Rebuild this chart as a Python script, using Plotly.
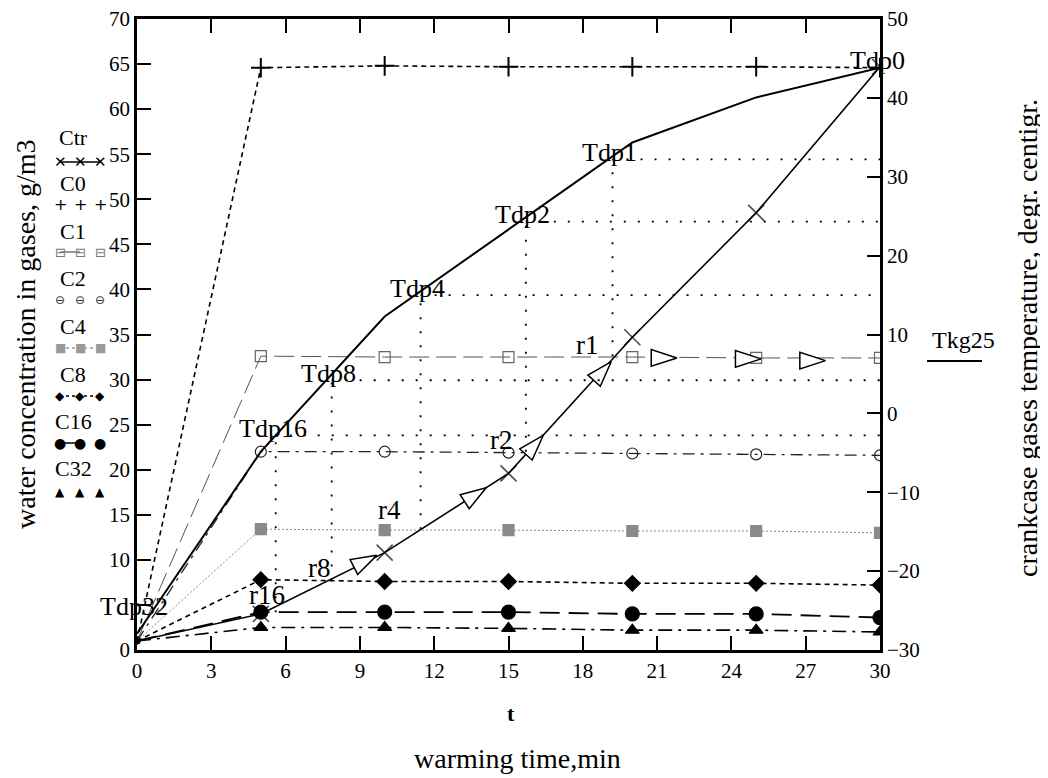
import plotly.graph_objects as go

# ---------------- data ----------------
t = [0, 5, 10, 15, 20, 25, 30]                      # warming time, min
ctr = [1.0, 4.0, 10.8, 19.6, 34.7, 48.5, 64.7]      # Ctr, g/m3
c0 = [1.0, 64.6, 64.8, 64.7, 64.7, 64.7, 64.6]
c1 = [1.0, 32.6, 32.5, 32.5, 32.5, 32.4, 32.4]
c2 = [1.0, 22.0, 22.0, 21.9, 21.8, 21.7, 21.6]
c4 = [1.0, 13.4, 13.3, 13.3, 13.2, 13.2, 13.0]
c8 = [1.0, 7.8, 7.6, 7.6, 7.4, 7.4, 7.2]
c16 = [1.0, 4.2, 4.2, 4.2, 4.0, 4.0, 3.6]
c32 = [1.0, 2.5, 2.5, 2.4, 2.2, 2.2, 2.0]
tdp_curve = [1.8, 22.0, 37.0, 46.6, 56.3, 61.3, 64.6]

# dew points (right axis, degr. centigr.) and times where Ctr reaches Cn
tdp_names = ["Tdp0", "Tdp1", "Tdp2", "Tdp4", "Tdp8", "Tdp16", "Tdp32"]
tdp_t = [30, 19.2, 15.7, 11.45, 7.86, 5.6, 0]
tdp_degc = [43.8, 32.2, 24.3, 15.0, 4.2, -2.8, -25.4]

r_names = ["r1", "r2", "r4", "r8", "r16"]
r_t = [19.2, 15.7, 11.45, 7.86, 5.6]
r_c = [32.6, 22.0, 13.4, 7.7, 4.2]

# open arrow heads drawn along the Ctr path
arrow_t = [9.68, 14.1, 16.4, 19.15, 21.8, 25.2, 27.8]
arrow_c = [10.5, 18.0, 23.8, 32.0, 32.4, 32.3, 32.1]

x_ticks = list(range(0, 31, 3))
left_ticks = list(range(0, 71, 5))
left_ticktext = ["" if v == 5 else str(v) for v in left_ticks]
left_range = [0, 70]
right_range = [-30, 50]

# ---------------- geometry / style ----------------
OFF = 8                       # page body margin of the html page
W, H = 1048, 778
L, R, T, B = 137, 880, 19, 650  # plot area in screenshot pixels
SERIF = "Liberation Serif"
SYM = "DejaVu Sans"


def px(x, y):
    return (x - L) / (R - L), (B - y) / (B - T)


def to_right(c):
    return right_range[0] + (c - left_range[0]) * (right_range[1] - right_range[0]) / (left_range[1] - left_range[0])


fig = go.Figure()


def series(y, color, dash, width, symbol, msize, mcolor, mline=1.2):
    sizes = [5] + [msize] * (len(t) - 1)
    fig.add_trace(go.Scatter(
        x=t, y=y, mode="lines+markers", showlegend=False,
        line=dict(color=color, dash=dash, width=width),
        marker=dict(symbol=symbol, size=sizes, color=mcolor, opacity=1,
                    line=dict(color=mcolor, width=mline))))


series(c4, "#8a8a8a", "2px,2px", 1, "square", 11, "#8a8a8a")
series(c1, "#555555", "20px,7px", 1, "square-open", 11, "#666666")
series(c2, "#222222", "12px,6px,3px,6px", 1.3, "circle-open", 11, "#222222")
series(c8, "black", "5px,4px", 1.6, "diamond", 12, "black")
series(c16, "black", "20px,9px", 1.8, "circle", 14, "black")
series(c32, "black", "14px,6px,3px,6px", 1.6, "triangle-up", 12, "black")
series(c0, "black", "5px,4px", 1.6, "cross-thin-open", 14, "black", 2)

# dew point curve
fig.add_trace(go.Scatter(x=t, y=tdp_curve, mode="lines", showlegend=False,
                         line=dict(color="black", width=2)))
# Ctr
fig.add_trace(go.Scatter(x=t, y=ctr, mode="lines+markers", showlegend=False,
                         line=dict(color="black", width=1.6),
                         marker=dict(symbol="x-thin-open", size=[5] + [16] * 6,
                                     line=dict(color="black", width=1.6))))

# dotted guides (right axis)
gx, gy = [], []
for tr, lev, cn in zip(r_t, tdp_degc[1:6], r_c):
    gx += [tr, t[-1], None, tr, tr, None]
    gy += [lev, lev, None, to_right(cn), lev, None]
fig.add_trace(go.Scatter(x=gx, y=gy, yaxis="y2", mode="lines", showlegend=False,
                         line=dict(color="black", width=1.8, dash="2px,12px")))

# arrow heads
arrow_angle = [63, 57, 42, 42, 90, 90, 90]
fig.add_trace(go.Scatter(x=arrow_t, y=arrow_c, mode="markers", showlegend=False,
                         marker=dict(symbol="arrow", size=27, angle=arrow_angle,
                                     color="white", line=dict(color="black", width=1.5))))

ann = []
for name, x, y in zip(tdp_names, tdp_t, tdp_degc):
    ann.append(dict(x=x, y=y, xref="x", yref="y2", text=name, showarrow=False,
                    xshift=-3, yshift=7, font=dict(family=SERIF, size=26, color="black")))
r_shift = [(-25, 11), (-24, 12), (-31, 19), (-12, 13), (-9, 17)]
for name, x, y, (dx, dy) in zip(r_names, r_t, r_c, r_shift):
    ann.append(dict(x=x, y=y, xref="x", yref="y", text=name, showarrow=False,
                    xshift=dx, yshift=dy, font=dict(family=SERIF, size=27, color="black")))


def note(x, y, text, size, angle=0, family=SERIF, color="black"):
    xx, yy = px(x, y)
    ann.append(dict(x=xx, y=yy, xref="paper", yref="paper", text=text, showarrow=False,
                    textangle=angle, xanchor="center", yanchor="middle",
                    font=dict(family=family, size=size, color=color)))


note(25, 334, "water concentration in gases, g/m3", 28, -90)
note(1027, 338, "crankcase gases temperature, degr. centigr.", 28, -90)
note(511, 713, "<b>t</b>", 22)
note(517, 758, "warming time,min", 28)
note(963, 340, "Tkg25", 24)

shapes = []


def seg(x0, y0, x1, y1, color="black", width=1.5, dash="solid"):
    a0, b0 = px(x0, y0)
    a1, b1 = px(x1, y1)
    shapes.append(dict(type="line", xref="paper", yref="paper", x0=a0, y0=b0, x1=a1, y1=b1,
                       line=dict(color=color, width=width, dash=dash)))


seg(927, 361, 982, 361, width=2)

# Mathcad-style legend at left
legend_rows = [
    ("Ctr", 137, 162, "✕", 15, "black", "solid", 3),
    ("C0", 183, 205, "+", 16, "black", None, 0),
    ("C1", 231, 252, "⊟", 13, "#777777", "solid", 2),
    ("C2", 278, 300, "⊖", 12, "#333333", None, 0),
    ("C4", 326, 348, "■", 12, "#999999", "dot", 3),
    ("C8", 374, 396, "◆", 12, "black", "dot", 3),
    ("C16", 421, 443, "●", 14, "black", "solid", 2),
    ("C32", 469, 492, "▲", 12, "black", None, 0),
]
for lab, ly, sy, glyph, gs, gc, ldash, lspan in legend_rows:
    note(73, ly, lab, 22)
    if ldash:
        seg(60, sy, 60 + 20 * (lspan - 1), sy, color=gc, width=1.5, dash=ldash)
    for gx_ in (60, 80, 100):
        note(gx_, sy, glyph, gs, family=SYM, color=gc)

tick_font = dict(family=SERIF, size=21, color="black")
common = dict(ticks="inside", tickwidth=1.5, tickcolor="black", showline=True, linewidth=2.5,
              linecolor="black", showgrid=False, zeroline=False, tickfont=tick_font,
              automargin=False, ticklabeloverflow="allow")
fig.update_layout(
    width=W - OFF, height=H - OFF,
    margin=dict(l=L - OFF, r=W - R, t=T - OFF, b=H - B, pad=0),
    plot_bgcolor="white", paper_bgcolor="white",
    annotations=ann, shapes=shapes,
    xaxis=dict(range=[0, 30], tickvals=x_ticks, ticklen=14, mirror="ticks", **common),
    yaxis=dict(range=left_range, tickvals=left_ticks, ticktext=left_ticktext, ticklen=14, **common),
    yaxis2=dict(range=right_range, dtick=10, overlaying="y", side="right", ticklen=13, **common),
)

fig.write_html("out.html")
